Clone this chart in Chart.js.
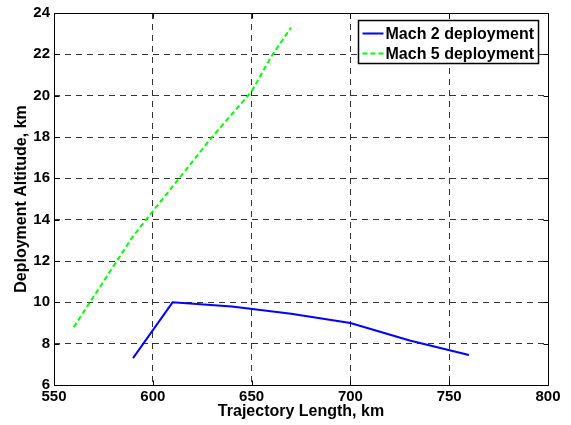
<!DOCTYPE html>
<html>
<head>
<meta charset="utf-8">
<script src="https://cdn.jsdelivr.net/npm/chart.js@4"></script>
<style>
  body { margin: 0; background: #fff; }
  canvas { display: block; }
</style>
</head>
<body>
<canvas id="myChart" width="571" height="425"></canvas>
<script>
// Data
const seriesNames = ['Mach 2 deployment', 'Mach 5 deployment'];
const mach2Length = [590, 610, 640, 670, 700, 730, 760];
const mach2Alt = [7.3, 10.0, 9.8, 9.45, 9.0, 8.15, 7.45];
const mach5Length = [560, 575, 590, 610, 630, 650, 660, 670];
const mach5Alt = [8.8, 11.0, 13.2, 15.6, 18.0, 20.2, 21.9, 23.3];
const xTicks = [550, 600, 650, 700, 750, 800];
const yTicks = [6, 8, 10, 12, 14, 16, 18, 20, 22, 24];

const FONT = 'Liberation Sans, Arial, Helvetica, sans-serif';

function toPoints(xs, ys) {
    return xs.map((x, i) => ({ x: x, y: ys[i] }));
}

// Box round the plot, inward tick marks, and the legend inside the plot
const framePlugin = {
    id: 'frame',
    afterDraw(chart) {
        const ctx = chart.ctx;
        const a = chart.chartArea;
        const xs = chart.scales.x;
        const ys = chart.scales.y;
        ctx.save();
        ctx.strokeStyle = '#000';
        ctx.lineWidth = 1;
        ctx.setLineDash([]);
        const L = Math.round(a.left) + 0.5, R = Math.round(a.right) + 0.5;
        const T = Math.round(a.top) + 0.5, B = Math.round(a.bottom) + 0.5;
        ctx.beginPath();
        xTicks.forEach(v => {
            const px = Math.round(xs.getPixelForValue(v)) + 0.5;
            ctx.moveTo(px, B); ctx.lineTo(px, B - 5);
            ctx.moveTo(px, T); ctx.lineTo(px, T + 5);
        });
        yTicks.forEach(v => {
            const py = Math.round(ys.getPixelForValue(v)) + 0.5;
            ctx.moveTo(L, py); ctx.lineTo(L + 5, py);
            ctx.moveTo(R, py); ctx.lineTo(R - 5, py);
        });
        ctx.stroke();
        ctx.strokeRect(L, T, R - L, B - T);

        // legend
        ctx.font = 'bold 16px ' + FONT;
        const textW = Math.max(...seriesNames.map(n => ctx.measureText(n).width));
        const boxW = Math.round(textW + 32);
        const boxH = 43;
        const bx = Math.round(a.right) - 10 - boxW + 0.5;
        const by = Math.round(a.top) + 7 + 0.5;
        ctx.fillStyle = '#fff';
        ctx.fillRect(bx, by, boxW, boxH);
        ctx.lineWidth = 1.5;
        ctx.strokeRect(bx, by, boxW, boxH);
        chart.data.datasets.forEach((ds, i) => {
            const cy = by + 13 + i * 20;
            ctx.strokeStyle = ds.borderColor;
            ctx.lineWidth = 2;
            ctx.setLineDash(ds.borderDash || []);
            ctx.beginPath();
            ctx.moveTo(bx + 4, cy);
            ctx.lineTo(bx + 25, cy);
            ctx.stroke();
            ctx.setLineDash([]);
            ctx.fillStyle = '#000';
            ctx.textBaseline = 'middle';
            ctx.textAlign = 'left';
            ctx.fillText(ds.label, bx + 27, cy + 1);
        });
        ctx.restore();
    }
};

const ctx = document.getElementById('myChart').getContext('2d');
const myChart = new Chart(ctx, {
    type: 'line',
    data: {
        datasets: [{
            label: seriesNames[0],
            data: toPoints(mach2Length, mach2Alt),
            borderColor: '#0000ff',
            borderWidth: 2,
            pointRadius: 0,
            tension: 0,
            fill: false
        }, {
            label: seriesNames[1],
            data: toPoints(mach5Length, mach5Alt),
            borderColor: '#00ff00',
            borderWidth: 2,
            borderDash: [5, 3],
            pointRadius: 0,
            tension: 0,
            fill: false
        }]
    },
    options: {
        responsive: false,
        animation: false,
        layout: { padding: { left: 0, right: 23, top: 11, bottom: 0 } },
        plugins: {
            legend: { display: false },
            tooltip: { enabled: false }
        },
        scales: {
            x: {
                type: 'linear',
                min: 550,
                max: 800,
                afterBuildTicks: s => { s.ticks = xTicks.map(v => ({ value: v })); },
                afterFit: s => { s.height = 40; },
                ticks: {
                    padding: 3,
                    color: '#000',
                    font: { family: FONT, size: 15, weight: 'bold' }
                },
                grid: { color: '#333', lineWidth: 1, drawTicks: false },
                border: { display: false, dash: [6, 5] },
                title: {
                    display: true,
                    text: 'Trajectory Length, km',
                    color: '#000',
                    font: { family: FONT, size: 16, weight: 'bold' },
                    padding: { top: 0, bottom: 3.4 }
                }
            },
            y: {
                min: 6,
                max: 24,
                afterBuildTicks: s => { s.ticks = yTicks.map(v => ({ value: v })); },
                afterFit: s => { s.width = 54; },
                ticks: {
                    padding: 4,
                    color: '#000',
                    font: { family: FONT, size: 15, weight: 'bold' }
                },
                grid: { color: '#333', lineWidth: 1, drawTicks: false },
                border: { display: false, dash: [6, 5] },
                title: {
                    display: true,
                    text: 'Deployment Altitude, km',
                    color: '#000',
                    font: { family: FONT, size: 16, weight: 'bold' },
                    padding: { top: 12.4, bottom: 0 }
                }
            }
        }
    },
    plugins: [framePlugin]
});
</script>
</body>
</html>
